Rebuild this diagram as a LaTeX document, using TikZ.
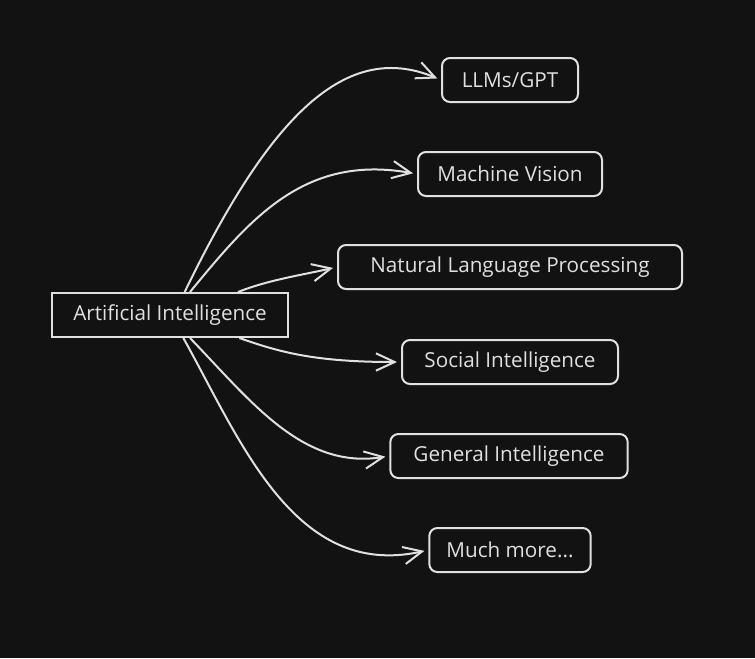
\documentclass[tikz,border=0pt]{standalone}
\usepackage{xcolor}
\usepackage{fontspec}
\setmainfont{Open Sans}
\usepackage{tikz}
\usetikzlibrary{arrows.meta,positioning,calc}
\definecolor{bgdark}{RGB}{18,18,18}
\definecolor{inkgray}{RGB}{224,224,224}

\begin{document}
\begin{tikzpicture}[
            x=0.75pt, y=-0.75pt,
            every node/.style={rectangle, draw=inkgray, text=inkgray, line width=1.5pt, minimum height=33pt, font=\fontsize{15.5}{18}\selectfont},
            topic/.style={rounded corners=6pt},
            link/.style={draw=inkgray, line width=1.5pt, -{Straight Barb[length=14pt,width=13pt,line width=1.5pt]}, shorten >=3pt}
        ]
            \fill[bgdark] (0,0) rectangle (755,658);
            \useasboundingbox (0,0) rectangle (755,658);

            \node[minimum width=177pt] (ai) at (170,315) {Artificial Intelligence};

            \node[topic, minimum width=102pt] (llm) at (510,80) {LLMs/GPT};
            \node[topic, minimum width=138pt] (vision) at (510,174) {Machine Vision};
            \node[topic, minimum width=258pt] (nlp) at (510,267) {Natural Language Processing};
            \node[topic, minimum width=162pt] (social) at (510,362) {Social Intelligence};
            \node[topic, minimum width=178pt] (general) at (509,456) {General Intelligence};
            \node[topic, minimum width=121pt] (more) at (510,550) {Much more...};

            \draw[link] ([xshift=11pt]ai.north) .. controls +(80,-165) and +(-100,-42) .. (llm.west);
            \draw[link] ([xshift=15pt]ai.north) .. controls +(60,-73) and +(-113,-20) .. (vision.west);
            \draw[link] ([xshift=51pt]ai.north) .. controls +(30,-12) and +(-35,8) .. (nlp.west);
            \draw[link] ([xshift=52pt]ai.south) .. controls +(40,14) and +(-87,0) .. (social.west);
            \draw[link] ([xshift=15pt]ai.south) .. controls +(60,62) and +(-87,14) .. (general.west);
            \draw[link] ([xshift=10pt]ai.south) .. controls +(57,102) and +(-134,30) .. (more.west);
        \end{tikzpicture}
\end{document}
